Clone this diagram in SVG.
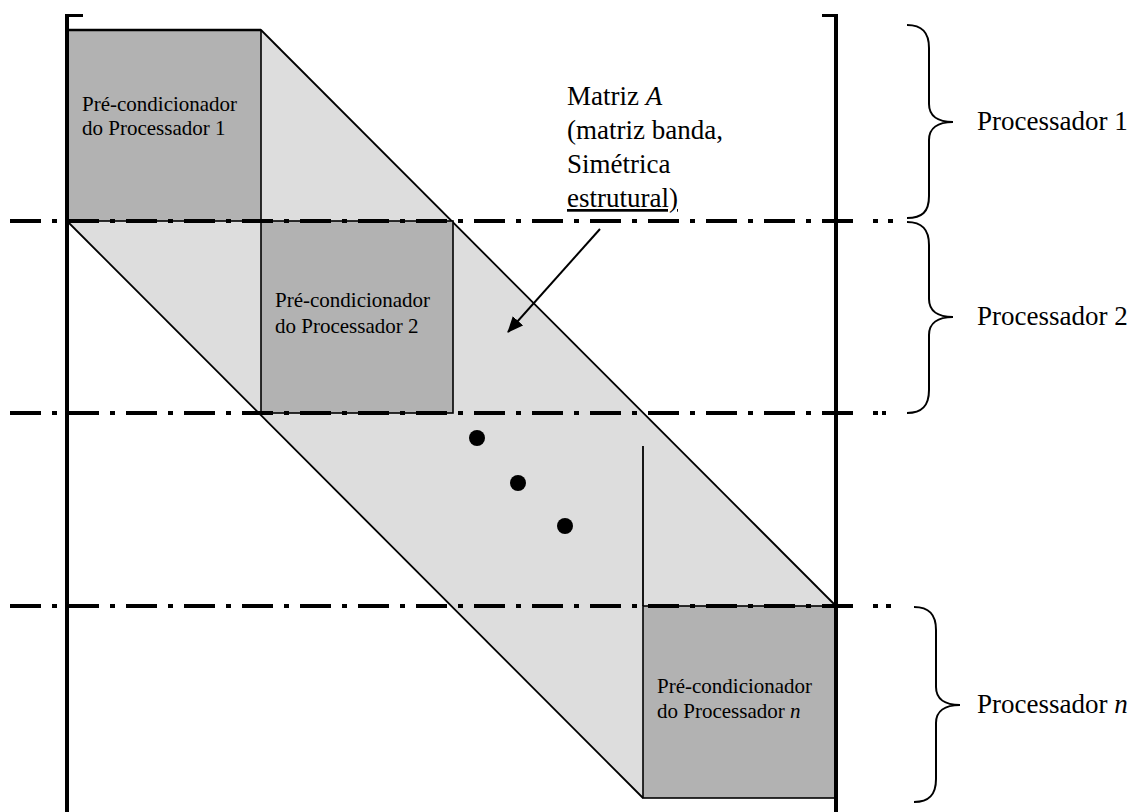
<svg xmlns="http://www.w3.org/2000/svg" width="1135" height="812" viewBox="0 0 1135 812">
<style>
.t{font-family:"Liberation Serif","Times New Roman",serif;fill:#000}
.sm{font-size:21px}
.lg{font-size:27px}
.ml{font-size:27px}
.box{fill:#b2b2b2;stroke:#000;stroke-width:1.6}
.thin{stroke:#000;stroke-width:1.8;fill:none}
.dd{stroke:#000;stroke-width:4;fill:none;stroke-dasharray:31 11 5 11}
.dot{stroke:#000;stroke-width:4;fill:none}
.br{stroke:#000;stroke-width:2;fill:none}
.thick{stroke:#000;stroke-width:4;fill:none}
</style>
<defs>
<marker id="ah" markerWidth="16" markerHeight="14" refX="15" refY="7" orient="auto" markerUnits="userSpaceOnUse" viewBox="0 0 16 14">
<path d="M0,0 L16,7 L0,14 z" fill="#000"/>
</marker>
</defs>
<rect width="1135" height="812" fill="#fff"/>
<g id="band">
<polygon points="67,30 261,30 836,606 836,798 643,798 67,221" fill="#dddddd"/>
<line class="thin" x1="261" y1="30" x2="836" y2="606"/>
<line class="thin" x1="67" y1="221" x2="643" y2="798"/>
<line class="thin" x1="643" y1="446" x2="643" y2="606"/>
</g>
<g id="box1">
<rect class="box" x="67" y="30" width="194" height="191"/>
<line x1="67" y1="30" x2="261" y2="30" stroke="#000" stroke-width="2.5"/>
<text class="t sm" x="82" y="111">Pré-condicionador</text>
<text class="t sm" x="82" y="135">do Processador 1</text>
</g>
<g id="box2">
<rect class="box" x="261" y="221" width="192" height="192"/>
<text class="t sm" x="275" y="307">Pré-condicionador</text>
<text class="t sm" x="275" y="333">do Processador 2</text>
</g>
<g id="boxn">
<rect class="box" x="643" y="606" width="193" height="192"/>
<text class="t sm" x="657" y="693">Pré-condicionador</text>
<text class="t sm" x="657" y="718">do Processador <tspan font-style="italic">n</tspan></text>
</g>
<g id="frame">
<line class="thick" x1="67" y1="14" x2="67" y2="812"/>
<line x1="65" y1="15.5" x2="83" y2="15.5" stroke="#000" stroke-width="3"/>
<line class="thick" x1="836" y1="14" x2="836" y2="812"/>
<line x1="822" y1="15.5" x2="838" y2="15.5" stroke="#000" stroke-width="3"/>
</g>
<g id="dividers">
<line class="dd" x1="10" y1="221" x2="862" y2="221"/>
<path class="dot" d="M873,221 h5 M888,221 h5"/>
<line class="dd" x1="10" y1="413" x2="862" y2="413"/>
<path class="dot" d="M873,413 h5 M882,413 h4"/>
<line class="dd" x1="10" y1="606" x2="862" y2="606"/>
<path class="dot" d="M873,606 h5 M886,606 h5"/>
</g>
<g id="dots">
<circle cx="477" cy="438" r="8" fill="#000"/>
<circle cx="518" cy="483" r="8" fill="#000"/>
<circle cx="565" cy="526" r="8" fill="#000"/>
</g>
<g id="matrizA">
<text class="t ml" x="567" y="105">Matriz <tspan font-style="italic">A</tspan></text>
<text class="t ml" x="567" y="139">(matriz banda,</text>
<text class="t ml" x="567" y="173">Simétrica</text>
<text class="t ml" x="567" y="207" text-decoration="underline">estrutural)</text>
</g>
<g id="connectors">
<line x1="600" y1="229" x2="508" y2="332" stroke="#000" stroke-width="2" marker-end="url(#ah)"/>
</g>
<g id="proc1">
<path class="br" d="M907,25 C922,25 929,32 929,48 L929,104 C929,116 938,122 953,122 C938,122 929,128 929,140 L929,196 C929,212 922,218 907,218"/>
<text class="t lg" x="977" y="130">Processador 1</text>
</g>
<g id="proc2">
<path class="br" d="M907,222 C922,222 929,229 929,245 L929,299 C929,311 938,317 953,317 C938,317 929,323 929,335 L929,390 C929,406 922,413 907,413"/>
<text class="t lg" x="977" y="325">Processador 2</text>
</g>
<g id="procn">
<path class="br" d="M914,607 C929,607 936,614 936,630 L936,687 C936,699 945,705 960,705 C945,705 936,711 936,723 L936,779 C936,795 929,802 914,802"/>
<text class="t lg" x="977" y="713">Processador <tspan font-style="italic">n</tspan></text>
</g>
</svg>
